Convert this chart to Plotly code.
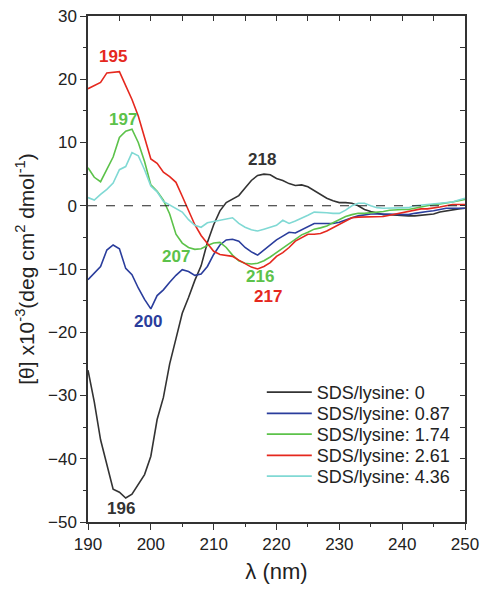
import plotly.graph_objects as go

# Wavelength grid (nm)
wavelength = list(range(190, 251))

# Mean residue ellipticity [θ] x10^-3 for each SDS/lysine ratio
theta_0 = [-26, -31, -37, -41, -44.8, -45.3, -46.2, -45.6, -44, -42.5,
           -39.6, -33.8, -30.3, -25, -21, -17, -14.5, -11.8, -9.5, -5.8,
           -3, -0.8, 0.5, 1, 1.6, 2.8, 4, 4.8, 5, 4.9,
           4.3, 4, 3.5, 3.2, 3.3, 3, 2.4, 1.8, 1.2, 0.8,
           0.5, 0.5, 0.4, 0, -0.6, -0.9, -1.2, -1.4, -1.4, -1.5,
           -1.5, -1.6, -1.6, -1.5, -1.4, -1.3, -1, -0.8, -0.6, -0.5, -0.4]

theta_087 = [-11.7, -10.6, -9.6, -7, -6.2, -6.8, -9.9, -10.9, -13, -14.8,
             -16.3, -14.2, -13.3, -12.1, -11, -10.1, -10.4, -11, -10.8, -9.6,
             -7.7, -6.2, -5.4, -5.3, -5.6, -6.6, -7.3, -7.8, -7, -6.3,
             -5.4, -4.8, -4.2, -4.3, -3.8, -3.3, -2.8, -2.8, -2.8, -2.8,
             -2.6, -2.2, -1.9, -1.6, -1.4, -1.3, -1.3, -1.3, -1.4, -1.4,
             -1.4, -1.4, -1.2, -1.0, -0.9, -0.8, -0.6, -0.4, -0.4, -0.4, -0.4]

theta_174 = [6, 4.5, 3.8, 5.8, 7.7, 10.8, 11.8, 12.1, 10, 7,
             3.3, 2.3, 0.9, -1.3, -4.5, -5.9, -6.6, -6.9, -6.8, -6.3,
             -5.9, -5.8, -6.6, -7.8, -8.7, -9.1, -9.2, -9.1, -8.7, -8.1,
             -7.4, -6.7, -6, -5.2, -4.6, -4.2, -3.7, -3.5, -3.2, -2.7,
             -2.2, -1.7, -1.4, -1.2, -1.2, -1.1, -1.1, -0.9, -0.7, -0.6,
             -0.6, -0.6, -0.4, -0.1, 0.1, 0.2, 0.3, 0.4, 0.6, 0.8, 1.0]

theta_261 = [18.5, 19, 19.5, 21, 21.1, 21.2, 19, 16.8, 14.2, 10.8,
             7.4, 6.7, 5.3, 4.6, 3.7, 1.5, -0.8, -3, -4.7, -6,
             -7.2, -7.7, -7.8, -8, -8.6, -9.2, -9.7, -10, -9.6, -9,
             -8, -7.4, -6.6, -5.6, -5, -4.5, -4.5, -4.4, -4, -3.5,
             -2.9, -2.4, -1.9, -1.8, -1.8, -1.8, -1.8, -1.7, -1.5, -1.3,
             -1.2, -1.0, -0.7, -0.5, -0.5, -0.4, -0.2, 0, 0.2, 0.2, 0.2]

theta_436 = [1.3, 0.9, 1.8, 2.6, 3.6, 5.7, 6.2, 8.4, 7.9, 5.7,
             3.1, 2.2, 0.7, 0.1, -0.5, -1.0, -2.2, -3.1, -3.4, -2.7,
             -2.5, -2.3, -2.0, -1.9, -2.8, -3.4, -3.8, -4.0, -3.7, -3.4,
             -3.1, -2.3, -2.8, -2.4, -2.0, -1.5, -1.0, -1.0, -1.1, -1.2,
             -1.2, -0.7, 0, 0.4, 0.4, 0, -0.3, -0.4, -0.4, -0.4,
             -0.4, -0.3, 0, 0.1, 0.2, 0.2, 0.3, 0.4, 0.6, 0.9, 1.2]

series_names = ["SDS/lysine: 0", "SDS/lysine: 0.87", "SDS/lysine: 1.74",
                "SDS/lysine: 2.61", "SDS/lysine: 4.36"]
series_values = [theta_0, theta_087, theta_174, theta_261, theta_436]
series_colors = ["#333333", "#2a3d9c", "#5cc24a", "#e5281e", "#80d9d4"]

# Peak / trough wavelength labels: (text, x, y, colour index)
peak_labels = ["195", "197", "218", "207", "216", "217", "200", "196"]
peak_x = [194.0, 195.6, 217.7, 204.0, 217.3, 218.6, 199.5, 195.3]
peak_y = [23.6, 13.6, 7.3, -8.1, -11.2, -14.3, -18.3, -47.9]
peak_color_idx = [3, 2, 0, 2, 2, 3, 1, 0]

FONT = "Arial, Liberation Sans, sans-serif"
AXIS_COLOR = "#333333"

# One legend per series so the rows can sit close together
legend_ids = ["legend", "legend2", "legend3", "legend4", "legend5"]
legend_row_y = [0.256, 0.214, 0.173, 0.131, 0.090]

fig = go.Figure()

for name, vals, col, lid in zip(series_names, series_values, series_colors, legend_ids):
    fig.add_trace(go.Scatter(
        x=wavelength, y=vals, mode="lines", name=name, legend=lid,
        line=dict(color=col, width=1.6),
    ))

# Dashed zero reference line, drawn on the mirrored (top/right) axes
fig.add_trace(go.Scatter(
    x=[190, 250], y=[0, 0], mode="lines", xaxis="x2", yaxis="y2",
    line=dict(color="#222222", width=1.1, dash="dash"),
    showlegend=False, hoverinfo="skip",
))

for txt, px, py, ci in zip(peak_labels, peak_x, peak_y, peak_color_idx):
    fig.add_annotation(
        x=px, y=py, text="<b>%s</b>" % txt, showarrow=False,
        font=dict(family=FONT, size=17, color=series_colors[ci]),
        xanchor="center", yanchor="middle",
        borderpad=0,
    )

axis_common = dict(showline=True, linecolor=AXIS_COLOR, linewidth=1.5,
                   showgrid=False, zeroline=False, tickcolor=AXIS_COLOR,
                   tickwidth=1.3, automargin=False)

legend_style = dict(
    x=0.461, xanchor="left", yanchor="middle",
    bgcolor="rgba(0,0,0,0)", borderwidth=0,
    font=dict(family=FONT, size=18, color="#222222"),
    itemwidth=45,
)
legends = {lid: dict(y=ly, **legend_style) for lid, ly in zip(legend_ids, legend_row_y)}

fig.update_layout(
    width=482, height=589,
    margin=dict(l=88, r=17, t=16, b=67, autoexpand=False),
    paper_bgcolor="white", plot_bgcolor="white",
    font=dict(family=FONT, size=17, color="#222222"),
    xaxis=dict(
        range=[190, 250], tickmode="linear", tick0=190, dtick=10,
        ticks="outside", ticklen=6,
        minor=dict(ticks="outside", ticklen=3.5, dtick=5, tickcolor=AXIS_COLOR, tickwidth=1.3),
        title=dict(text="λ (nm)", font=dict(size=22), standoff=10),
        tickfont=dict(size=17), **axis_common,
    ),
    yaxis=dict(
        range=[-50, 30], tickmode="linear", tick0=-50, dtick=10,
        ticks="outside", ticklen=6,
        minor=dict(ticks="outside", ticklen=3.5, dtick=5, tickcolor=AXIS_COLOR, tickwidth=1.3),
        title=dict(text="[θ] x10<sup>-3</sup>(deg cm<sup>2</sup> dmol<sup>-1</sup>)",
                   font=dict(size=21), standoff=8),
        tickfont=dict(size=17), **axis_common,
    ),
    xaxis2=dict(
        range=[190, 250], overlaying="x", side="top", anchor="y2",
        tickmode="linear", tick0=190, dtick=5, ticks="inside", ticklen=5,
        showticklabels=False, **axis_common,
    ),
    yaxis2=dict(
        range=[-50, 30], overlaying="y", side="right", anchor="x2",
        tickmode="linear", tick0=-50, dtick=5, ticks="inside", ticklen=5,
        showticklabels=False, **axis_common,
    ),
    showlegend=True,
    **legends,
)

fig.write_html("out.html")
